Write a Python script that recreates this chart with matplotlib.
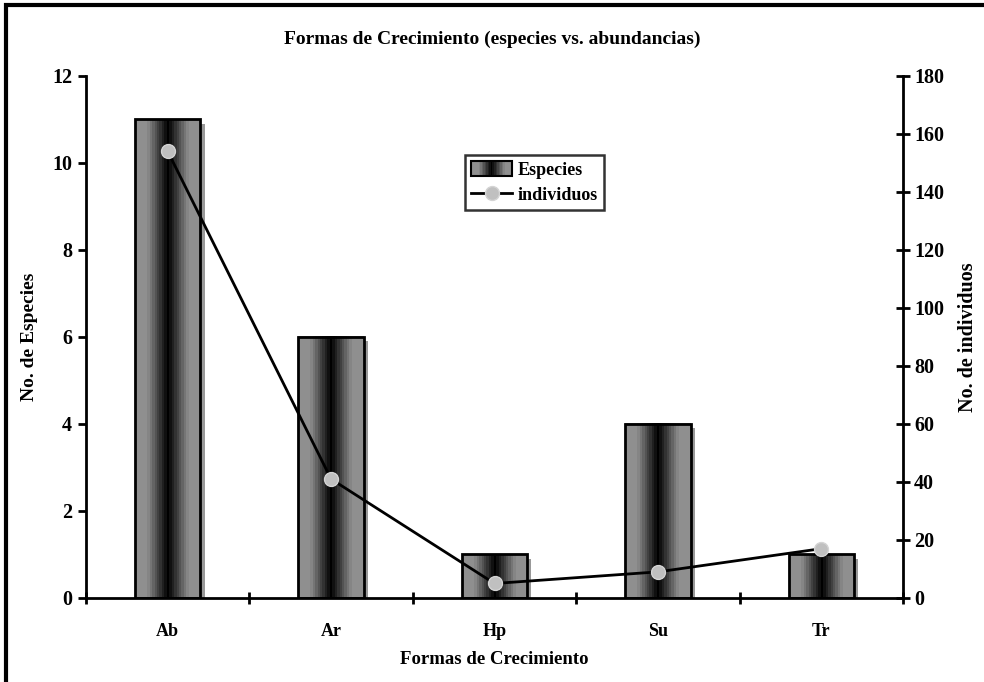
import numpy as np
import matplotlib
matplotlib.use('Agg')
import matplotlib.pyplot as plt
from matplotlib.patches import Rectangle
from matplotlib.lines import Line2D
from matplotlib.legend_handler import HandlerBase
import matplotlib.patheffects as pe

categories = ['Ab', 'Ar', 'Hp', 'Su', 'Tr']
especies = [11, 6, 1, 4, 1]
individuos = [154, 41, 5, 9, 17]

plt.rcParams['font.family'] = ['Liberation Serif', 'DejaVu Serif']
plt.rcParams['font.weight'] = 'bold'
plt.rcParams['axes.labelweight'] = 'bold'
plt.rcParams['font.size'] = 14

# cylinder-like gray shading across a bar
t = np.linspace(-1, 1, 27)
shade = np.minimum(0.56, 0.85 * np.abs(t))
shade = shade.reshape(1, -1)


class GradientHandler(HandlerBase):
    def create_artists(self, legend, orig_handle, xdescent, ydescent,
                       width, height, fontsize, trans):
        arts = []
        n = shade.shape[1]
        w = width / n
        for i in range(n):
            arts.append(Rectangle((-xdescent + i * w, -ydescent), w, height,
                                  facecolor=str(shade[0, i]), edgecolor='none',
                                  transform=trans))
        arts.append(Rectangle((-xdescent, -ydescent), width, height,
                              facecolor='none', edgecolor='black', lw=1.5,
                              transform=trans))
        return arts


fig = plt.figure(figsize=(9.84, 6.82), dpi=100)
ax1 = fig.add_axes([0.0874, 0.1232, 0.8303, 0.7654])
ax2 = ax1.twinx()

x = np.arange(len(categories))
width = 0.4

# shadow
ax1.bar(x, especies, width=width, facecolor='none', edgecolor='none', zorder=1,
        path_effects=[pe.SimplePatchShadow(offset=(3, -3), shadow_rgbFace='0.6', alpha=1)])
bars = ax1.bar(x, especies, width=width, facecolor='none', edgecolor='black',
               lw=2, zorder=3)
for b in bars:
    ax1.imshow(shade, cmap='gray', vmin=0, vmax=1, aspect='auto',
               interpolation='nearest', zorder=2,
               extent=(b.get_x(), b.get_x() + b.get_width(), 0, b.get_height()))

ax1.set_xlim(-0.5, len(categories) - 0.5)
ax1.set_ylim(0, 12)
ax1.set_yticks(range(0, 13, 2))
ax1.set_xticks(np.arange(-0.5, len(categories), 1))
ax1.set_xticklabels([])
ax1.set_xticks(x, minor=True)
ax1.set_xticklabels(categories, minor=True, fontsize=13)
ax1.tick_params(axis='x', which='major', direction='inout', length=9, width=2)
ax1.tick_params(axis='x', which='minor', length=0, pad=18)
ax1.tick_params(axis='y', direction='out', length=6, width=2, pad=4, labelsize=14.5)

ax2.plot(x, individuos, color='black', lw=2, marker='o', markersize=10,
         markerfacecolor='#c0c0c0', markeredgecolor='#d4d4d4', markeredgewidth=1,
         zorder=4)
ax2.set_ylim(0, 180)
ax2.set_yticks(range(0, 181, 20))
ax2.tick_params(axis='y', direction='inout', length=10, width=2, pad=3, labelsize=14.5)

for ax in (ax1, ax2):
    ax.spines['top'].set_visible(False)
    for s in ax.spines.values():
        s.set_linewidth(2)
ax1.spines['right'].set_visible(False)
ax2.spines['left'].set_visible(False)
ax2.spines['bottom'].set_visible(False)

ax1.set_ylabel('No. de Especies', labelpad=10, fontsize=14)
ax2.set_ylabel('No. de individuos', labelpad=10, fontsize=14.5)
ax1.set_xlabel('Formas de Crecimiento', labelpad=8, fontsize=13.5)
fig.text(0.5, 0.943, 'Formas de Crecimiento (especies vs. abundancias)',
         ha='center', va='center', fontsize=14)

handles = [Rectangle((0, 0), 1, 1),
           Line2D([], [], color='black', lw=2, marker='o', markersize=10,
                  markerfacecolor='#c0c0c0', markeredgecolor='#d4d4d4')]
leg = ax2.legend(handles, ['Especies', 'individuos'],
                 handler_map={Rectangle: GradientHandler()},
                 loc='center', bbox_to_anchor=(0.549, 0.796),
                 frameon=True, fancybox=False, edgecolor='black', fontsize=13,
                 handlelength=2.3, handleheight=0.9, handletextpad=0.3,
                 borderpad=0.35, labelspacing=0.4, borderaxespad=0)
leg.get_frame().set_linewidth(1.8)
leg.set_zorder(10)

fig.patches.append(Rectangle((0.006, -0.02), 1.1, 1.013, transform=fig.transFigure,
                             facecolor='none', edgecolor='black', lw=3))

fig.savefig('out.png', dpi=100)
